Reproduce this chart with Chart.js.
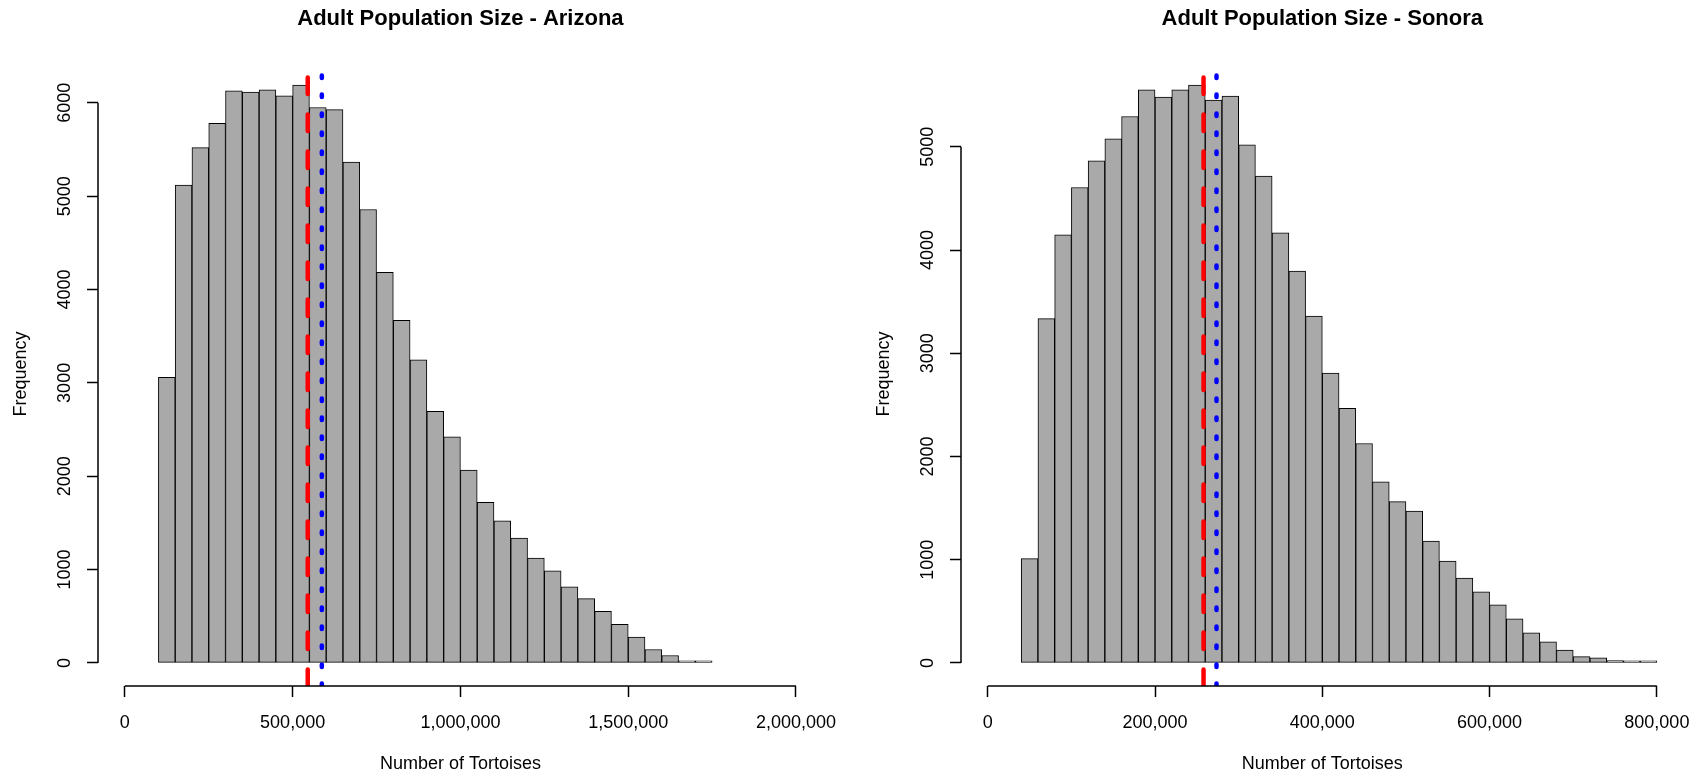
<!DOCTYPE html>
<html>
<head>
<meta charset="utf-8">
<title>Adult Population Size</title>
<script src="https://cdn.jsdelivr.net/npm/chart.js@4.4.1/dist/chart.umd.min.js"></script>
<style>
  html, body { margin: 0; padding: 0; background: #fff; overflow: hidden; }
  canvas { position: absolute; top: 0; }
  #arizona { left: 0; }
  #sonora { left: 863px; }
</style>
</head>
<body>
<canvas id="arizona" width="852" height="777"></canvas>
<canvas id="sonora" width="842" height="777"></canvas>
<script>
// histogram breaks and counts
const azBreaks = [100000, 150000, 200000, 250000, 300000, 350000, 400000, 450000, 500000, 550000,
  600000, 650000, 700000, 750000, 800000, 850000, 900000, 950000, 1000000, 1050000,
  1100000, 1150000, 1200000, 1250000, 1300000, 1350000, 1400000, 1450000, 1500000, 1550000,
  1600000, 1650000, 1700000, 1750000]
const azCounts = [3060, 5120, 5520, 5780, 6130, 6115, 6140, 6075, 6190, 5950,
  5928, 5366, 4857, 4183, 3670, 3247, 2695, 2423, 2065, 1720,
  1523, 1337, 1122, 986, 814, 688, 552, 412, 276, 143,
  79, 12, 6]
const azXLim = [0, 2000000]
const azXTicks = [0, 500000, 1000000, 1500000, 2000000]
const azYTicks = [0, 1000, 2000, 3000, 4000, 5000, 6000]
const azMedian = 545000
const azMean = 587000

const soBreaks = [40000, 60000, 80000, 100000, 120000, 140000, 160000, 180000, 200000, 220000,
  240000, 260000, 280000, 300000, 320000, 340000, 360000, 380000, 400000, 420000,
  440000, 460000, 480000, 500000, 520000, 540000, 560000, 580000, 600000, 620000,
  640000, 660000, 680000, 700000, 720000, 740000, 760000, 780000, 800000]
const soCounts = [1010, 3336, 4147, 4606, 4864, 5078, 5294, 5552, 5481, 5552,
  5598, 5452, 5491, 5019, 4716, 4166, 3795, 3359, 2809, 2466,
  2126, 1754, 1563, 1472, 1181, 987, 822, 689, 563, 427,
  291, 204, 123, 61, 49, 23, 10, 8]
const soXLim = [0, 800000]
const soXTicks = [0, 200000, 400000, 600000, 800000]
const soYTicks = [0, 1000, 2000, 3000, 4000, 5000]
const soMedian = 258000
const soMean = 273500

const FONT = '"Liberation Sans", Arial, sans-serif'
Chart.defaults.font.family = FONT
Chart.defaults.font.size = 18
Chart.defaults.color = '#000'

// main title, centred over the plot region like R does
const rTitle = {
  id: 'rTitle',
  afterDraw(chart, args, opts) {
    const {ctx, chartArea: a} = chart
    ctx.save()
    ctx.font = 'bold 22px ' + FONT
    ctx.fillStyle = '#000'
    ctx.textAlign = 'center'
    ctx.textBaseline = 'alphabetic'
    ctx.fillText(opts.text, (a.left + a.right) / 2, 25)
    ctx.restore()
  }
}

// R axes only run from the first to the last tick
const rAxes = {
  id: 'rAxes',
  afterDraw(chart) {
    const {ctx, chartArea: a, scales: {x, y}} = chart
    const xt = x.ticks, yt = y.ticks
    ctx.save()
    ctx.strokeStyle = '#000'
    ctx.lineWidth = 1.5
    ctx.beginPath()
    ctx.moveTo(x.getPixelForValue(xt[0].value), a.bottom)
    ctx.lineTo(x.getPixelForValue(xt[xt.length - 1].value), a.bottom)
    ctx.moveTo(a.left, y.getPixelForValue(yt[0].value))
    ctx.lineTo(a.left, y.getPixelForValue(yt[yt.length - 1].value))
    ctx.stroke()
    ctx.restore()
  }
}

// abline(v = ...) for median (dashed red) and mean (dotted blue)
const refLines = {
  id: 'refLines',
  afterDatasetsDraw(chart, args, opts) {
    const {ctx, chartArea: a, scales: {x}} = chart
    ctx.save()
    ctx.beginPath()
    ctx.rect(a.left, a.top, a.width, a.height)
    ctx.clip()
    opts.lines.forEach(l => {
      const px = x.getPixelForValue(l.value)
      ctx.beginPath()
      ctx.strokeStyle = l.color
      ctx.lineWidth = 4.5
      ctx.lineCap = 'round'
      ctx.setLineDash(l.dash)
      ctx.moveTo(px, a.bottom)
      ctx.lineTo(px, a.top)
      ctx.stroke()
    })
    ctx.restore()
  }
}

function histChart(id, {title, breaks, counts, xLim, xTicks, yTicks, median, mean, padRight}) {
  const points = counts.map((c, i) => ({x: (breaks[i] + breaks[i + 1]) / 2, y: c}))
  const xPad = (xLim[1] - xLim[0]) * 0.04
  const yMax = Math.max(...counts)
  const yPad = yMax * 0.04

  return new Chart(document.getElementById(id), {
    type: 'bar',
    data: {
      datasets: [{
        data: points,
        backgroundColor: '#a9a9a9',
        borderColor: '#000',
        borderWidth: 1,
        borderSkipped: false,
        minBarLength: 2,
        barPercentage: 1,
        categoryPercentage: 1
      }]
    },
    options: {
      responsive: false,
      animation: false,
      events: [],
      layout: {padding: {top: 62, right: padRight, bottom: 0, left: 0}},
      plugins: {
        legend: {display: false},
        tooltip: {enabled: false},
        rTitle: {text: title},
        refLines: {lines: [
          {value: median, color: '#ff0000', dash: [16.5, 20.5]},
          {value: mean, color: '#0000ff', dash: [2.5, 16.5]}
        ]}
      },
      scales: {
        x: {
          type: 'linear',
          offset: false,
          bounds: 'data',
          min: xLim[0] - xPad,
          max: xLim[1] + xPad,
          afterBuildTicks: s => { s.ticks = xTicks.map(v => ({value: v})) },
          afterFit: s => { s.height = 777 - 686 },
          border: {display: false},
          grid: {offset: false, drawOnChartArea: false, drawTicks: true, tickLength: 11, tickWidth: 1.5, tickColor: '#000'},
          ticks: {autoSkip: false, maxRotation: 0, padding: 15, callback: v => v.toLocaleString('en-US')},
          title: {display: true, text: 'Number of Tortoises', padding: {top: 0, bottom: 2.4}}
        },
        y: {
          type: 'linear',
          bounds: 'data',
          min: -yPad,
          max: yMax + yPad,
          afterBuildTicks: s => { s.ticks = yTicks.map(v => ({value: v})) },
          afterFit: s => { s.width = 98 },
          border: {display: false},
          grid: {drawOnChartArea: false, drawTicks: true, tickLength: 11, tickWidth: 1.5, tickColor: '#000'},
          ticks: {autoSkip: false, minRotation: 90, maxRotation: 90, crossAlign: 'center', padding: 2, callback: v => String(v)},
          title: {display: true, text: 'Frequency', padding: {top: 10.5, bottom: 0}}
        }
      }
    },
    plugins: [refLines, rAxes, rTitle]
  })
}

histChart('arizona', {
  title: 'Adult Population Size - Arizona',
  breaks: azBreaks, counts: azCounts, xLim: azXLim, xTicks: azXTicks, yTicks: azYTicks,
  median: azMedian, mean: azMean, padRight: 26
})

histChart('sonora', {
  title: 'Adult Population Size - Sonora',
  breaks: soBreaks, counts: soCounts, xLim: soXLim, xTicks: soXTicks, yTicks: soYTicks,
  median: soMedian, mean: soMean, padRight: 16.4
})
</script>
</body>
</html>
